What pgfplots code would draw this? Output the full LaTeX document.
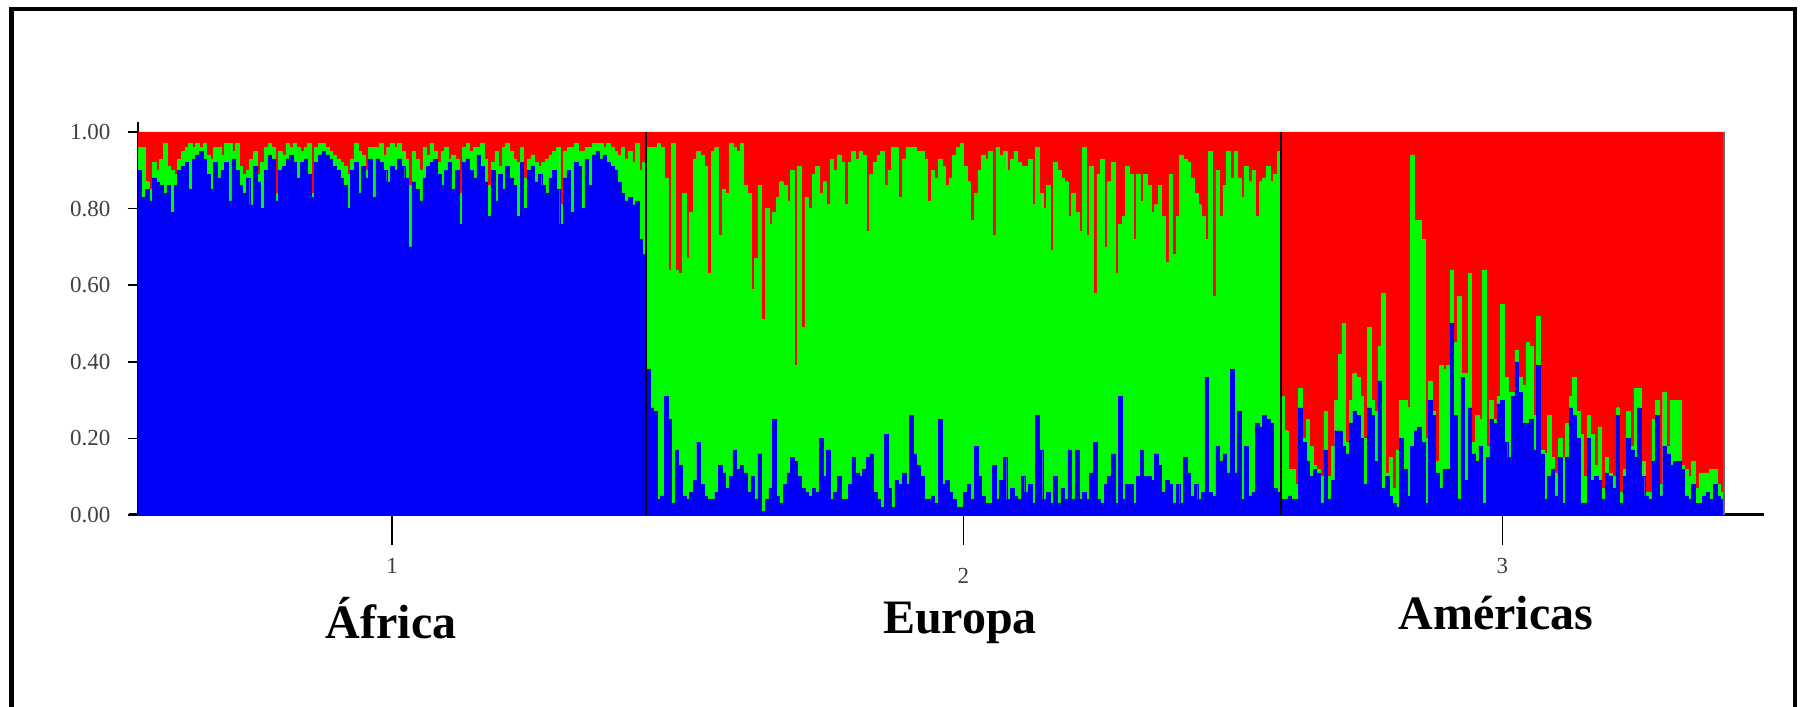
\documentclass[border=0pt]{standalone}
\usepackage{fontspec}
\setmainfont{Liberation Serif}
\usepackage{pgfplots}
\pgfplotsset{compat=1.18}
\usepackage{pgfplotstable}
\definecolor{cblue}{RGB}{0,0,250}
\definecolor{cgreen}{RGB}{0,250,0}
\definecolor{cred}{RGB}{255,0,0}
% b = top of blue (percent), t = top of green (percent); red fills the rest up to 100
\pgfplotstableread[row sep=\\]{
b t\\
90 96\\ 83 96\\ 85 87\\ 82 85\\ 88 92\\ 87 90\\ 86 93\\ 84 97\\ 86 91\\ 79 90\\
86 89\\ 90 93\\ 91 95\\ 92 96\\ 85 97\\ 93 96\\ 94 97\\ 95 96\\ 93 97\\ 89 94\\
85 93\\ 92 96\\ 88 96\\ 90 94\\ 92 97\\ 82 97\\ 93 95\\ 90 97\\ 86 91\\ 84 89\\
88 90\\ 81 93\\ 91 95\\ 87 89\\ 80 92\\ 90 96\\ 94 97\\ 93 96\\ 82 84\\ 90 95\\
91 94\\ 93 97\\ 94 96\\ 92 97\\ 88 96\\ 92 95\\ 93 96\\ 89 97\\ 83 84\\ 92 96\\
94 97\\ 95 97\\ 94 96\\ 93 95\\ 91 94\\ 90 93\\ 88 92\\ 86 91\\ 80 89\\ 90 93\\
92 97\\ 84 95\\ 91 94\\ 88 90\\ 93 96\\ 83 96\\ 93 96\\ 92 97\\ 90 94\\ 87 96\\
91 97\\ 90 96\\ 93 97\\ 91 95\\ 88 93\\ 70 86\\ 87 95\\ 85 93\\ 82 90\\ 88 96\\
91 94\\ 92 97\\ 93 95\\ 89 92\\ 86 95\\ 90 96\\ 92 93\\ 85 94\\ 90 93\\ 76 84\\
92 96\\ 93 97\\ 90 95\\ 88 96\\ 94 96\\ 91 97\\ 87 93\\ 78 86\\ 90 92\\ 82 95\\
89 91\\ 85 96\\ 91 97\\ 88 95\\ 86 93\\ 78 92\\ 92 96\\ 80 88\\ 90 93\\ 91 94\\
87 92\\ 89 91\\ 86 92\\ 84 93\\ 88 94\\ 90 95\\ 85 96\\ 76 81\\ 88 95\\ 90 96\\
79 96\\ 92 97\\ 91 95\\ 80 95\\ 93 96\\ 86 96\\ 94 97\\ 95 97\\ 93 97\\ 94 96\\
92 97\\ 91 96\\ 90 95\\ 87 94\\ 84 96\\ 82 93\\ 83 95\\ 81 92\\ 82 97\\ 72 90\\
68 92\\
38 96\\ 28 96\\ 27 96\\ 4 97\\ 5 96\\ 31 88\\ 25 64\\ 3 97\\ 17 64\\ 13 63\\
5 84\\ 4 67\\ 6 79\\ 9 93\\ 19 95\\ 8 94\\ 5 91\\ 4 63\\ 4 95\\ 6 96\\
13 73\\ 11 85\\ 7 84\\ 10 97\\ 17 96\\ 12 95\\ 13 97\\ 11 86\\ 6 84\\ 10 59\\
4 67\\ 16 86\\ 1 51\\ 4 80\\ 7 76\\ 25 79\\ 5 83\\ 3 87\\ 8 86\\ 11 82\\
15 90\\ 14 39\\ 10 91\\ 7 49\\ 6 83\\ 5 80\\ 7 89\\ 6 91\\ 20 84\\ 10 87\\
17 81\\ 4 93\\ 6 90\\ 10 94\\ 4 92\\ 4 81\\ 8 92\\ 15 95\\ 11 93\\
10 95\\ 12 94\\ 15 74\\ 16 89\\ 6 92\\ 4 94\\ 2 95\\ 21 86\\ 7 90\\ 2 96\\
9 96\\ 8 83\\ 11 93\\ 8 96\\ 26 96\\ 16 96\\ 13 95\\ 10 95\\ 4 93\\ 4 82\\
5 90\\ 3 88\\ 25 93\\ 8 91\\ 9 86\\ 6 88\\ 4 94\\ 2 96\\ 2 97\\ 6 91\\
8 87\\ 4 77\\ 18 84\\ 10 90\\ 5 94\\ 3 93\\ 3 95\\ 13 73\\ 4 96\\ 9 94\\
15 95\\ 4 90\\ 7 93\\ 5 95\\ 4 92\\ 10 91\\ 6 91\\ 8 93\\ 3 81\\ 26 96\\
17 84\\ 4 80\\ 6 86\\ 3 69\\ 10 92\\ 3 90\\ 7 88\\ 4 87\\ 17 78\\ 4 84\\
17 79\\ 4 74\\ 6 96\\ 4 73\\ 11 91\\ 19 58\\ 4 89\\ 3 93\\ 8 70\\ 10 87\\
16 92\\ 3 63\\ 31 76\\ 4 78\\ 8 91\\ 8 89\\ 3 72\\ 10 89\\ 17 82\\ 10 89\\
10 86\\ 9 79\\ 16 81\\ 13 86\\ 6 78\\ 9 66\\ 8 89\\ 3 68\\ 8 78\\ 3 94\\
15 93\\ 11 92\\ 5 88\\ 8 84\\ 4 81\\ 6 78\\ 36 72\\ 6 95\\ 5 57\\ 18 90\\
14 78\\ 16 86\\ 11 95\\ 38 88\\ 11 95\\ 27 88\\ 4 83\\ 18 91\\ 5 87\\ 6 90\\
24 78\\ 23 87\\ 26 88\\ 25 91\\ 24 87\\ 7 89\\ 6 95\\
4 31\\ 4 22\\ 5 12\\ 4 12\\ 4 8\\ 28 33\\ 19 20\\ 14 25\\ 10 18\\ 12 13\\
11 12\\ 3 10\\ 17 27\\ 4 10\\ 9 18\\ 22 30\\ 22 42\\ 18 50\\ 16 19\\ 24 30\\
27 37\\ 26 36\\ 20 31\\ 8 20\\ 28 49\\ 26 30\\ 14 27\\ 35 44\\ 7 58\\ 10 11\\
5 15\\ 3 7\\ 2 17\\ 20 30\\ 12 30\\ 5 28\\ 18 94\\ 22 77\\ 23 77\\ 19 72\\
3 20\\ 30 35\\ 26 27\\ 11 14\\ 7 39\\ 12 38\\ 12 39\\ 50 64\\ 26 45\\ 4 57\\
36 37\\ 9 37\\ 28 63\\ 16 19\\ 14 26\\ 18 25\\ 3 64\\ 15 18\\ 25 30\\ 24 25\\
29 31\\ 30 55\\
19 36\\ 15 32\\ 31 32\\ 40 43\\ 32 36\\ 24 34\\ 24 45\\ 25 44\\ 17 26\\ 39 52\\
16 17\\ 4 16\\ 10 26\\ 12 15\\ 5 11\\ 15 20\\ 3 15\\ 15 24\\ 28 31\\ 26 36\\
20 27\\ 3 21\\ 3 10\\ 20 26\\ 9 21\\ 10 13\\ 9 23\\ 4 7\\ 11 15\\ 10 11\\
7 10\\ 26 28\\ 3 6\\ 10 12\\ 20 27\\ 17 18\\ 15 33\\ 28 33\\ 10 14\\ 5 6\\
4 6\\ 14 25\\ 26 30\\ 5 8\\ 18 32\\ 16 18\\ 13 30\\ 14 30\\ 14 30\\ 12 13\\
5 12\\ 4 10\\ 8 14\\ 3 7\\ 3 11\\ 5 11\\ 6 11\\ 4 12\\ 8 12\\ 5 8\\
4 6\\
}\datatable

\begin{document}
\begin{tikzpicture}
\useasboundingbox (0,0) rectangle (901bp,353.5bp);
\draw[line width=2.3bp] (5.75bp,-2bp) -- (5.75bp,349bp) -- (897.5bp,349bp) -- (897.5bp,-2bp);
\begin{axis}[
  at={(69bp,96bp)}, anchor=south west,
  scale only axis, width=813bp, height=196.5bp,
  clip=false,
  ybar stacked, bar width=1,
  xmin=0, xmax=451.1, ymin=0, ymax=102.6,
  axis x line=bottom, axis y line=left,
  axis line style={-},
  x axis line style={line width=1.5bp},
  y axis line style={line width=0.8bp},
  tick align=outside,
  ytick={0,20,40,60,80,100},
  yticklabels={0.00,0.20,0.40,0.60,0.80,1.00},
  xtick={70.5,229,378.5},
  xticklabels={1,{\raisebox{-5bp}[\height][\depth]{2}},3},
  ytick style={/pgfplots/major tick length=5bp, line width=0.8bp, black},
  xtick style={/pgfplots/major tick length=15bp, line width=0.8bp, black},
  tick label style={font=\fontsize{11.5bp}{13bp}\selectfont, text=black!75},
  xticklabel style={anchor=north, yshift=-14bp},
  yticklabel style={xshift=-6bp},
]
\addplot[fill=cblue, draw=cblue, line width=0.2bp] table[x expr=\coordindex+0.5, y=b]{\datatable};
\addplot[fill=cgreen, draw=cgreen, line width=0.2bp] table[x expr=\coordindex+0.5, y expr=\thisrow{t}-\thisrow{b}]{\datatable};
\addplot[fill=cred, draw=cred, line width=0.2bp] table[x expr=\coordindex+0.5, y expr=100-\thisrow{t}]{\datatable};
\coordinate (s1b) at (axis cs:141,0);
\coordinate (s1t) at (axis cs:141,100);
\coordinate (s2b) at (axis cs:317,0);
\coordinate (s2t) at (axis cs:317,100);
\coordinate (s3b) at (axis cs:440,0);
\coordinate (s3t) at (axis cs:440,100);
\coordinate (xl) at (axis cs:-2.6,0);
\coordinate (x0) at (axis cs:0,0);
\end{axis}
\draw[black, line width=1bp] (s1b) -- (s1t);
\draw[black, line width=1bp] (s2b) -- (s2t);
\draw[black!60, line width=0.6bp] (s3b) -- (s3t);
\draw[black, line width=1.5bp] (xl) -- (x0);
\node[anchor=base, font=\fontsize{24bp}{28bp}\selectfont\bfseries] at (195.5bp,34.5bp) {África};
\node[anchor=base, font=\fontsize{24bp}{28bp}\selectfont\bfseries] at (480bp,37bp) {Europa};
\node[anchor=base, font=\fontsize{24bp}{28bp}\selectfont\bfseries] at (748bp,39bp) {Américas};
\end{tikzpicture}
\end{document}
